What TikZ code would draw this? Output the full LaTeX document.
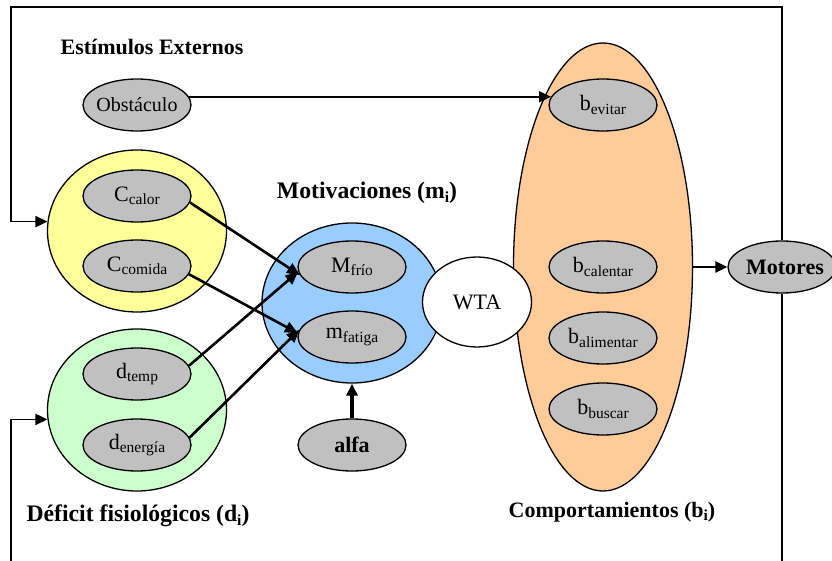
\documentclass[tikz,border=0pt]{standalone}
\usepackage{fontspec}
\setmainfont{Liberation Serif}
\usetikzlibrary{shapes.geometric,arrows.meta}

% lowered, smaller index text
\newcommand\lsub[1]{\raisebox{-0.15em}{\fontsize{15.5}{16}\selectfont #1}}
% zero-width text so the ellipse keeps its own size
\newcommand\zw[1]{\makebox[0pt]{#1}}

\definecolor{cyel}{HTML}{FFFF99}
\definecolor{cgrn}{HTML}{CCFFCC}
\definecolor{cblu}{HTML}{99CCFF}
\definecolor{corg}{HTML}{FFCC99}
\definecolor{cgray}{HTML}{C0C0C0}

\begin{document}
\begin{tikzpicture}[x=1pt,y=-1pt,
  every node/.style={font=\fontsize{22}{26}\selectfont},
  group/.style={ellipse, draw, line width=1.3pt, inner sep=0pt},
  item/.style={ellipse, draw, fill=cgray, line width=1.3pt, inner sep=0pt,
               minimum width=108pt, minimum height=52pt},
  title/.style={font=\fontsize{22}{26}\selectfont\bfseries},
  bigtitle/.style={font=\fontsize{23.7}{28}\selectfont\bfseries},
  link/.style={line width=2.6pt, -{Triangle[length=13pt,width=11pt]}},
  frame/.style={line width=1.8pt},
  tip/.style={-{Triangle[length=12pt,width=11pt]}},
]
\useasboundingbox (0,0) rectangle (832,561);
\clip (0,0) rectangle (832,561);

% groups
\node[group, fill=cyel, minimum width=179pt, minimum height=162pt] (yel) at (137,231) {};
\node[group, fill=cgrn, minimum width=179pt, minimum height=162pt] (grn) at (137,410) {};
\node[group, fill=cblu, minimum width=180pt, minimum height=160pt] (blu) at (352,303) {};
\node[group, fill=corg, minimum width=179pt, minimum height=448pt] (org) at (603,267) {};
\node[group, fill=white, minimum width=109pt, minimum height=90pt] (wta) at (477,302) {\zw{WTA}};

% items
\node[item] (obst) at (137,105) {\zw{\fontsize{20}{24}\selectfont Obstáculo}};
\node[item] (ccal) at (137,196) {\zw{C\lsub{calor}}};
\node[item] (ccom) at (137,266) {\zw{C\lsub{comida}}};
\node[item] (dtem) at (137,374) {\zw{d\lsub{temp}}};
\node[item] (dene) at (137,445) {\zw{d\lsub{energía}}};
\node[item] (mfri) at (352,267) {\zw{M\lsub{frío}}};
\node[item] (mfat) at (352,337) {\zw{m\lsub{fatiga}}};
\node[item] (alfa) at (352,445) {\zw{\bfseries alfa}};
\node[item] (bevi) at (603,105) {\zw{b\lsub{evitar}}};
\node[item] (bcal) at (603,267) {\zw{b\lsub{calentar}}};
\node[item] (bali) at (603,338) {\zw{b\lsub{alimentar}}};
\node[item] (bbus) at (603,409) {\zw{b\lsub{buscar}}};
\node[item] (mot) at (782,267) {\zw{\hspace{6pt}\bfseries Motores}};

% titles
\node[title] (tEst) at (152,47) {Estímulos Externos};
\node[bigtitle] (tMot) at (367,193) {Motivaciones (m\lsub{i})};
\node[bigtitle] (tDef) at (138,516) {Déficit fisiológicos (d\lsub{i})};
\node[title] (tCom) at (612,512) {Comportamientos (b\lsub{i})};

% outer loop
\coordinate (tl) at (11,7);
\coordinate (bl) at (11,566);
\coordinate (br) at (782,566);
\draw[frame, tip] (mot.north) |- (tl) |- (yel.174);
\draw[frame, tip] (bl) |- (grn.186);
\draw[frame] (mot.south) -- (mot.south |- br);

% connections
\draw[line width=2.2pt, tip] (obst.9) -- (bevi.171);
\draw[link] (ccal.-7.5) -- (mfri.-171);
\draw[link] (dtem.9.6) -- (mfri.-175);
\draw[link] (ccom.-9.6) -- (mfat.176);
\draw[link] (dene.8.6) -- (mfat.172);
\draw[line width=3.4pt, -{Triangle[length=12pt,width=11pt]}] (alfa.north) -- (blu.south);
\draw[line width=2.2pt, tip] (org.east) -- (mot.west);
\end{tikzpicture}
\end{document}
